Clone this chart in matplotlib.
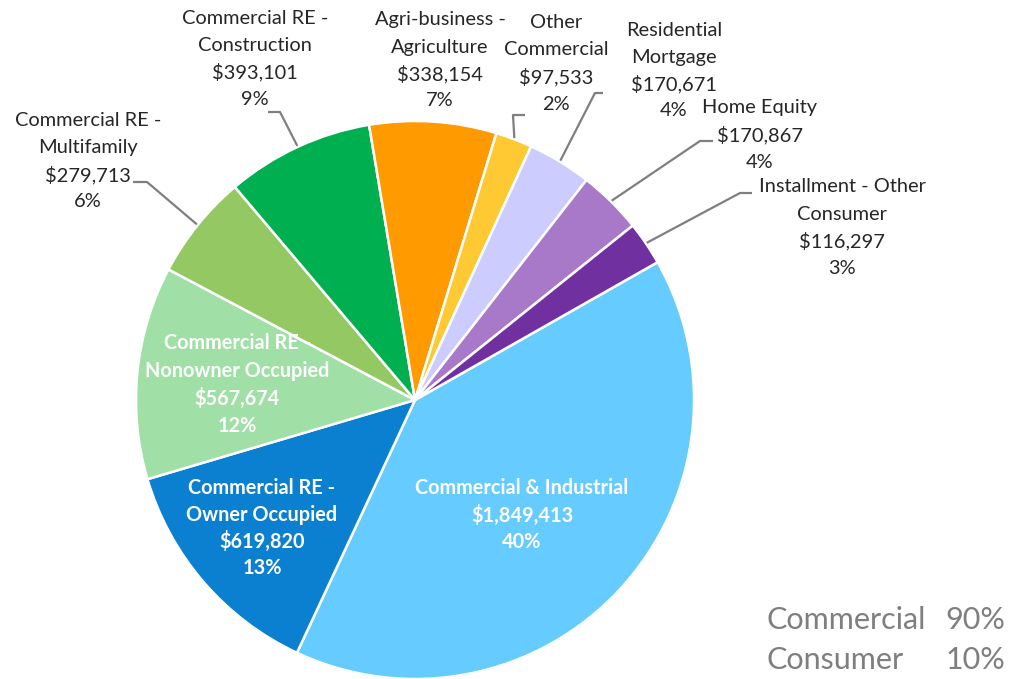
import numpy as np
import matplotlib.pyplot as plt

# Loan portfolio by category (balances in $000s)
categories = [
    "Commercial & Industrial",
    "Commercial RE -\nOwner Occupied",
    "Commercial RE -\nNonowner Occupied",
    "Commercial RE -\nMultifamily",
    "Commercial RE -\nConstruction",
    "Agri-business -\nAgriculture",
    "Other\nCommercial",
    "Residential\nMortgage",
    "Home Equity",
    "Installment - Other\nConsumer",
]
balances = [1849413, 619820, 567674, 279713, 393101, 338154, 97533, 170671, 170867, 116297]
segments = ["Commercial"] * 7 + ["Consumer"] * 3
colors = ["#66CCFF", "#0C80D0", "#A0E0A6", "#94C863", "#00B050",
          "#FF9A00", "#FFC933", "#CCCCFF", "#A979C9", "#7030A0"]

W, H = 1013, 679
FONT = "Lato"
LEADER = "#7F7F7F"

fig = plt.figure(figsize=(W / 100, H / 100), dpi=100)
ax = fig.add_axes([0, 0, 1, 1])


def px(x, y):
    """Convert top-left pixel coordinates to data coordinates."""
    return x, H - y


cx, cy = px(415, 400)
R = 279
wedges, _ = ax.pie(balances, colors=colors, startangle=29.6, counterclock=False,
                   radius=R, center=(cx, cy), frame=True,
                   wedgeprops=dict(edgecolor="white", linewidth=1.8))
ax.set_xlim(0, W)
ax.set_ylim(0, H)
ax.set_aspect("equal")
ax.axis("off")

total = sum(balances)


def label_lines(i):
    return categories[i].split("\n") + [f"${balances[i]:,}", f"{round(balances[i] / total * 100)}%"]


def draw_lines(lines, x, y0, pitch, **kw):
    for k, s in enumerate(lines):
        ax.text(*px(x, y0 + k * pitch), s, ha="center", va="center", family=FONT, **kw)


def edge_point(w, r=R):
    mid = np.deg2rad((w.theta1 + w.theta2) / 2)
    return cx + r * np.cos(mid), cy + r * np.sin(mid)


# Labels inside the large slices
inner = {0: (522, 488, 27.0), 1: (262, 488, 26.7), 2: (237, 343, 27.7)}
for i, (x, y0, p) in inner.items():
    draw_lines(label_lines(i), x, y0, p, color="white", fontsize=14.3, fontweight="bold")

# Labels outside the small slices
outer = {3: (88, 120, 27.3), 4: (255, 18, 27.2), 5: (440, 20, 27.0), 6: (556, 22, 27.5),
         7: (674, 30, 27.0), 8: (760, 108, 27.0), 9: (842, 187, 27.0)}
for i, (x, y0, p) in outer.items():
    draw_lines(label_lines(i), x, y0, p, color="#262626", fontsize=14.4)

# Leader lines: elbow points (pixel coords) then the slice edge
elbows = {3: [(133, 182), (147, 182)], 4: [(268, 112), (280, 112)],
          6: [(525, 115), (513, 115)], 7: [(603, 93), (595, 93)],
          8: [(713, 141), (700, 141)], 9: [(752, 193), (740, 193)]}
for i, pts in elbows.items():
    xy = [px(*p) for p in pts] + [edge_point(wedges[i], R + 1)]
    xs, ys = zip(*xy)
    ax.plot(xs, ys, color=LEADER, lw=1.6, solid_capstyle="butt")

# Segment summary
seg_tot = {}
for s, v in zip(segments, balances):
    seg_tot[s] = seg_tot.get(s, 0) + v
for k, (s, v) in enumerate(seg_tot.items()):
    y = 620 + 40 * k
    ax.text(*px(767, y), s, ha="left", va="center", family=FONT, fontsize=22, color="#7F7F7F")
    ax.text(*px(1005, y), f"{round(v / total * 100)}%", ha="right", va="center",
            family=FONT, fontsize=22, color="#7F7F7F")

fig.savefig("out.png", dpi=100, facecolor="white")
